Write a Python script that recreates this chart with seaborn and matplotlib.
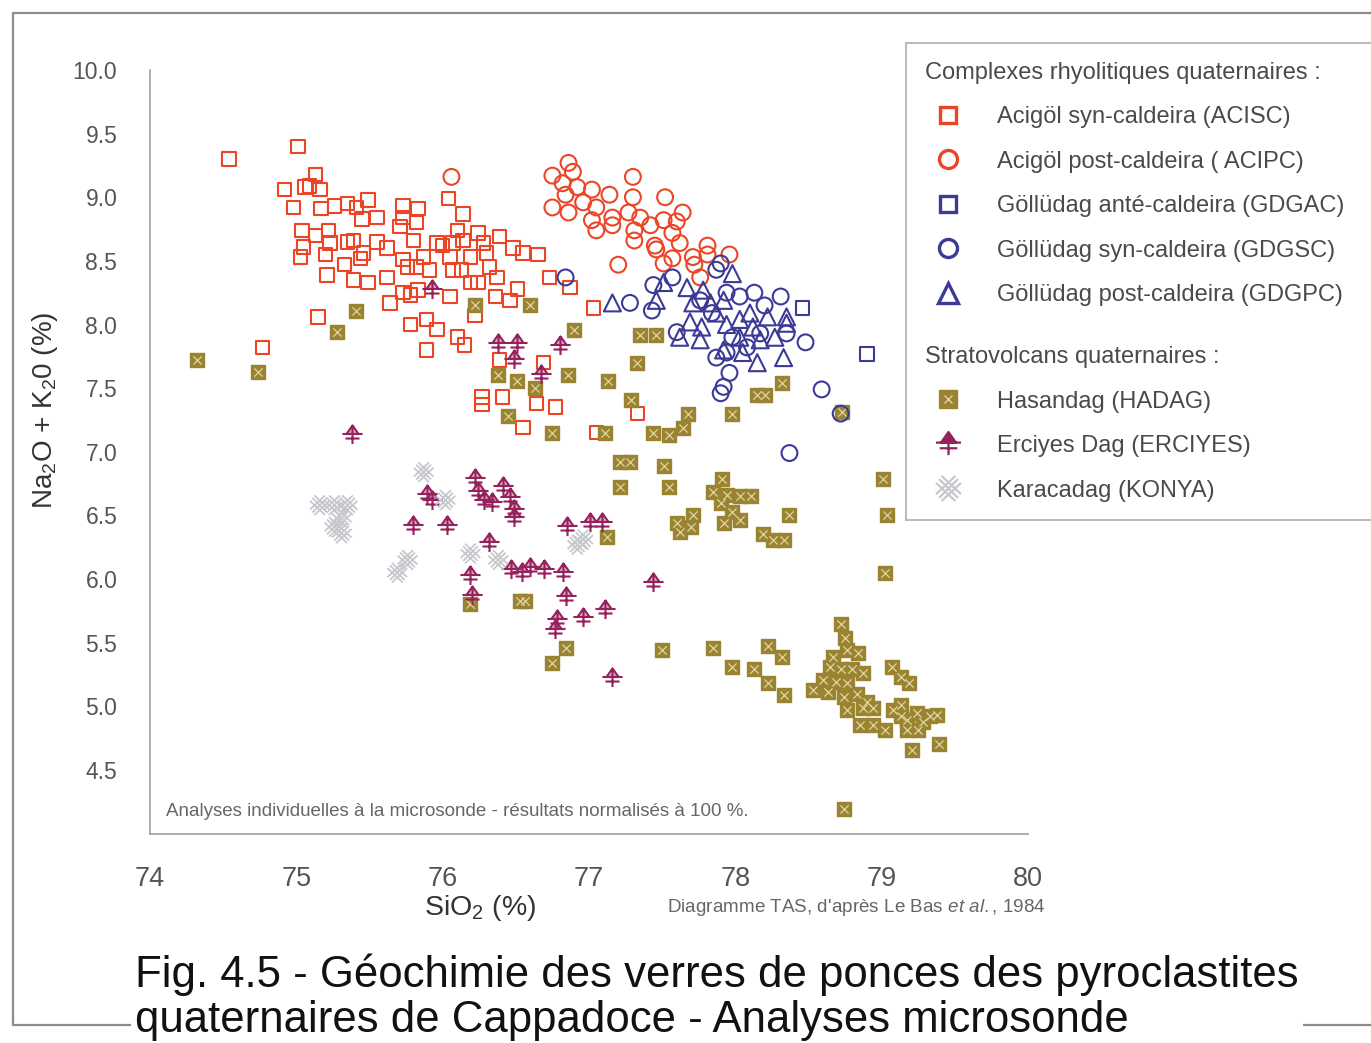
import numpy as np
import pandas as pd
import seaborn as sns
import matplotlib.pyplot as plt
from matplotlib.path import Path
from matplotlib.lines import Line2D
from matplotlib import font_manager


acisc = [(74.54, 9.30), (75.01, 9.40), (75.13, 9.18), (74.92, 9.06), (75.06, 9.08), (75.09, 9.09),
         (75.16, 9.06), (74.98, 8.92), (75.17, 8.91), (75.26, 8.93), (75.35, 8.95), (75.41, 8.92),
         (75.49, 8.98), (75.55, 8.84), (75.45, 8.83), (75.73, 8.93), (75.83, 8.91), (76.04, 8.99),
         (76.14, 8.87), (75.04, 8.74), (75.13, 8.70), (75.05, 8.61), (75.03, 8.53), (75.22, 8.74),
         (75.23, 8.64), (75.20, 8.55), (75.21, 8.39), (75.35, 8.65), (75.39, 8.66), (75.46, 8.56),
         (75.44, 8.52), (75.33, 8.47), (75.39, 8.35), (75.49, 8.33), (75.55, 8.65), (75.62, 8.60),
         (75.62, 8.37), (75.71, 8.77), (75.73, 8.84), (75.82, 8.80), (75.80, 8.66), (75.73, 8.51),
         (75.76, 8.45), (75.82, 8.45), (75.87, 8.53), (75.91, 8.43), (75.96, 8.64), (76.00, 8.62),
         (76.07, 8.64), (76.10, 8.74), (76.14, 8.66), (76.05, 8.53), (76.07, 8.43), (76.13, 8.43),
         (76.19, 8.53), (76.24, 8.72), (76.28, 8.64), (76.30, 8.56), (76.39, 8.69), (76.48, 8.60),
         (76.55, 8.56), (76.65, 8.55), (76.32, 8.45), (76.37, 8.37), (76.24, 8.33), (76.19, 8.33),
         (76.05, 8.22), (75.73, 8.25), (75.78, 8.23), (75.83, 8.27), (75.64, 8.17), (76.36, 8.22),
         (76.46, 8.19), (76.51, 8.28), (76.73, 8.37), (76.87, 8.29), (77.03, 8.13), (75.15, 8.06),
         (74.77, 7.82), (75.78, 8.00), (75.89, 8.04), (75.96, 7.96), (76.10, 7.90), (76.15, 7.84),
         (75.89, 7.80), (76.22, 8.07), (76.69, 7.70), (76.27, 7.43), (76.27, 7.37), (76.41, 7.43),
         (76.64, 7.38), (76.77, 7.35), (76.55, 7.19), (77.05, 7.15), (76.39, 7.72), (77.33, 7.30)]

acipc = [(76.06, 9.16), (76.86, 9.27), (76.75, 9.17), (76.89, 9.20), (76.82, 9.11), (76.92, 9.08),
         (77.02, 9.06), (76.84, 9.02), (76.75, 8.92), (76.86, 8.88), (76.96, 8.96), (77.05, 8.92),
         (77.02, 8.82), (77.05, 8.74), (77.14, 9.02), (77.16, 8.84), (77.16, 8.78), (77.30, 9.16),
         (77.30, 9.00), (77.27, 8.88), (77.35, 8.84), (77.31, 8.74), (77.42, 8.78), (77.31, 8.66),
         (77.45, 8.62), (77.52, 9.00), (77.51, 8.82), (77.57, 8.72), (77.64, 8.88), (77.60, 8.81),
         (77.46, 8.59), (77.62, 8.64), (77.51, 8.48), (77.57, 8.52), (77.71, 8.53), (77.72, 8.47),
         (77.81, 8.62), (77.81, 8.55), (77.96, 8.55), (77.76, 8.37), (77.20, 8.47)]

gdgac = [(78.46, 8.13), (78.90, 7.77)]

gdgsc = [(76.84, 8.37), (77.28, 8.17), (77.44, 8.31), (77.43, 8.11), (77.57, 8.37), (77.60, 7.94),
         (77.76, 8.19), (77.87, 8.43), (77.90, 8.48), (77.94, 8.25), (78.03, 8.22), (78.13, 8.25),
         (78.20, 8.15), (78.31, 8.22), (78.35, 7.93), (78.48, 7.86), (78.17, 7.93), (77.98, 7.90),
         (77.87, 7.74), (77.94, 7.78), (78.08, 7.82), (77.96, 7.62), (77.92, 7.51), (77.90, 7.46),
         (78.59, 7.49), (78.72, 7.30), (78.37, 6.99), (77.84, 8.09)]

gdgpc = [(77.16, 8.17), (77.46, 8.19), (77.51, 8.33), (77.67, 8.29), (77.71, 8.17), (77.78, 8.27),
         (77.83, 8.17), (77.87, 8.09), (77.92, 8.19), (77.98, 8.40), (77.69, 8.02), (77.77, 7.98),
         (77.62, 7.90), (77.76, 7.88), (77.94, 8.00), (78.03, 8.04), (78.10, 8.09), (78.03, 7.90),
         (78.12, 7.98), (78.17, 7.88), (77.92, 7.80), (78.05, 7.78), (78.15, 7.70), (78.33, 7.74),
         (78.35, 8.06), (78.35, 8.01), (78.22, 8.06), (78.27, 7.90)]

hadag = [(74.32, 7.72), (74.74, 7.63), (75.28, 7.94), (75.41, 8.11), (76.22, 8.15), (76.60, 8.15),
         (76.90, 7.96), (76.86, 7.60), (76.38, 7.60), (76.51, 7.56), (76.63, 7.50), (76.45, 7.28),
         (76.75, 7.15), (77.35, 7.92), (77.46, 7.92), (77.33, 7.70), (77.13, 7.56), (77.29, 7.41),
         (77.68, 7.30), (77.98, 7.30), (78.15, 7.45), (78.20, 7.45), (78.32, 7.54), (78.73, 7.31),
         (77.11, 7.15), (77.44, 7.15), (77.55, 7.13), (77.64, 7.19), (77.21, 6.92), (77.28, 6.92),
         (77.51, 6.89), (77.21, 6.72), (77.55, 6.72), (77.91, 6.79), (77.85, 6.68), (77.94, 6.66),
         (78.03, 6.65), (78.11, 6.65), (77.90, 6.60), (77.98, 6.53), (77.92, 6.44), (78.03, 6.46),
         (77.60, 6.44), (77.71, 6.50), (77.70, 6.41), (77.62, 6.37), (78.37, 6.50), (78.19, 6.35),
         (78.26, 6.31), (78.33, 6.31), (79.01, 6.79), (79.04, 6.50), (79.02, 6.05), (77.12, 6.33),
         (76.19, 5.80), (76.53, 5.83), (76.56, 5.83), (76.75, 5.34), (76.84, 5.46), (77.50, 5.44),
         (77.85, 5.46), (77.98, 5.31), (78.13, 5.29), (78.22, 5.47), (78.32, 5.39), (78.22, 5.18),
         (78.33, 5.09), (78.72, 5.65), (78.75, 5.54), (78.67, 5.39), (78.76, 5.44), (78.84, 5.42),
         (78.65, 5.31), (78.72, 5.29), (78.80, 5.29), (78.87, 5.26), (78.60, 5.21), (78.69, 5.19),
         (78.76, 5.18), (78.53, 5.13), (78.63, 5.11), (78.74, 5.07), (78.83, 5.10), (78.90, 5.03),
         (78.76, 4.97), (78.87, 4.99), (78.94, 4.99), (78.85, 4.85), (78.94, 4.85), (79.07, 5.31),
         (79.13, 5.23), (79.19, 5.18), (79.02, 4.81), (79.08, 4.97), (79.13, 4.92), (79.17, 4.89),
         (79.17, 4.81), (79.24, 4.95), (79.28, 4.88), (79.33, 4.92), (79.38, 4.93), (79.25, 4.81),
         (79.21, 4.66), (79.39, 4.70), (79.13, 5.01), (78.74, 4.19)]

erciyes = [(75.38, 7.13), (75.93, 8.27), (76.38, 7.85), (76.51, 7.85), (76.80, 7.83), (76.49, 7.72),
           (76.67, 7.60), (76.22, 6.79), (76.24, 6.68), (76.28, 6.61), (76.34, 6.60), (76.41, 6.72),
           (76.46, 6.64), (76.49, 6.54), (76.49, 6.48), (75.89, 6.66), (75.93, 6.61), (75.80, 6.42),
           (76.03, 6.42), (76.32, 6.28), (76.19, 6.02), (76.20, 5.87), (76.47, 6.07), (76.54, 6.05),
           (76.60, 6.09), (76.69, 6.07), (76.82, 6.05), (76.85, 6.41), (77.01, 6.44), (77.09, 6.44),
           (76.78, 5.68), (76.77, 5.60), (76.96, 5.69), (77.11, 5.76), (76.84, 5.86), (77.44, 5.97),
           (77.16, 5.22)]

konya = [(75.16, 6.58), (75.26, 6.58), (75.35, 6.58), (75.31, 6.48), (75.26, 6.41), (75.31, 6.36),
         (75.87, 6.84), (76.02, 6.62), (75.76, 6.15), (75.69, 6.05), (76.19, 6.20), (76.38, 6.15),
         (76.92, 6.27), (76.96, 6.31)]

labels = ["Complexes rhyolitiques quaternaires :",
          "Acigöl syn-caldeira (ACISC)",
          "Acigöl post-caldeira ( ACIPC)",
          "Göllüdag anté-caldeira (GDGAC)",
          "Göllüdag syn-caldeira (GDGSC)",
          "Göllüdag post-caldeira (GDGPC)",
          "\nStratovolcans quaternaires :",
          "Hasandag (HADAG)",
          "Erciyes Dag (ERCIYES)",
          "Karacadag (KONYA)"]

y_ticks = np.arange(4.5, 10.01, 0.5)
x_ticks = np.arange(74, 81, 1)

RED = "#ec4526"
BLUE = "#3b3a96"
OLIVE = "#9a8432"
MAG = "#96215c"
GRAY = "#c6c8cd"

# ---- style ----
sns.set_theme(style="white")
installed = {f.name for f in font_manager.fontManager.ttflist}
NARROW = "Liberation Sans Narrow" if "Liberation Sans Narrow" in installed else "Liberation Sans"
plt.rcParams["font.family"] = ["Liberation Sans", "DejaVu Sans"]
plt.rcParams["mathtext.fontset"] = "custom"
plt.rcParams["mathtext.rm"] = "Liberation Sans"
plt.rcParams["mathtext.it"] = "Liberation Sans:italic"
plt.rcParams["mathtext.default"] = "regular"

# custom markers: Erciyes "tree" and Konya cross-hatch
tree = Path([(0, 1), (-0.6, 0.15), (0.6, 0.15), (0, 1),
             (-1, 0.15), (1, 0.15),
             (-0.7, -0.3), (0.7, -0.3),
             (0, 1), (0, -0.85)],
            [Path.MOVETO, Path.LINETO, Path.LINETO, Path.CLOSEPOLY,
             Path.MOVETO, Path.LINETO, Path.MOVETO, Path.LINETO,
             Path.MOVETO, Path.LINETO])
lattice = Path([(-1, -0.45), (0.55, 1), (-0.55, -1), (1, 0.45),
                (-1, 0.45), (0.55, -1), (-0.55, 1), (1, -0.45),
                (-0.75, -0.75), (0.75, 0.75), (-0.75, 0.75), (0.75, -0.75)],
               [Path.MOVETO, Path.LINETO] * 6)

fig = plt.figure(figsize=(13.71, 10.43), dpi=100)
fig.patch.set_facecolor("white")
ax = fig.add_axes([0.1094, 0.2008, 0.6404, 0.7321])


def df_of(pts):
    return pd.DataFrame(pts, columns=["sio2", "alk"])


def draw(pts, **kws):
    sns.scatterplot(data=df_of(pts), x="sio2", y="alk", ax=ax, legend=False, **kws)


draw(acisc, marker="s", s=95, color=RED, facecolor="none", edgecolor=RED, linewidth=1.5)
draw(acipc, marker="o", s=130, color=RED, facecolor="none", edgecolor=RED, linewidth=1.5)
draw(hadag, marker="s", s=105, color=OLIVE, edgecolor=OLIVE, linewidth=1.0)
draw(hadag, marker="x", s=35, color="#e0d5a0", linewidth=0.9)
draw(erciyes, marker=tree, s=210, color=MAG, facecolor=(0.59, 0.13, 0.36, 0.35), edgecolor=MAG, linewidth=1.5)
draw(konya, marker=lattice, s=200, color=GRAY, facecolor="none", edgecolor=GRAY, linewidth=1.3)
draw(gdgac, marker="s", s=95, color=BLUE, facecolor="none", edgecolor=BLUE, linewidth=1.5)
draw(gdgsc, marker="o", s=130, color=BLUE, facecolor="none", edgecolor=BLUE, linewidth=1.5)
draw(gdgpc, marker="^", s=150, color=BLUE, facecolor="none", edgecolor=BLUE, linewidth=1.5)

# ---- axes ----
ax.set_xlim(74, 80)
ax.set_ylim(4.0, 10.0)
ax.set_xticks(x_ticks)
ax.set_xticks(np.arange(74.5, 80, 1), minor=True)
ax.set_yticks(y_ticks)
ax.set_yticks(np.arange(4.0, 10.01, 0.25), minor=True)
ax.set_xticklabels([str(v) for v in x_ticks])
ax.set_yticklabels([f"{v:.1f}" for v in y_ticks])
sns.despine(ax=ax)
for side in ("left", "bottom"):
    ax.spines[side].set_color("#a0a0a0")
    ax.spines[side].set_linewidth(1.2)
ax.tick_params(which="major", direction="out", length=9.5, width=1, color="#a0a0a0", pad=14,
               labelcolor="#555555")
ax.tick_params(which="minor", direction="out", length=5, width=1, color="#a0a0a0")
ax.tick_params(axis="x", labelsize=19.5)
ax.tick_params(axis="y", labelsize=16.5)
for lab in ax.get_xticklabels():
    lab.set_fontfamily([NARROW, "DejaVu Sans"])

ax.set_xlabel(r"SiO$_2$ (%)", fontsize=20.5, color="#333333")
ax.xaxis.set_label_coords(0.376, -0.078)
ax.set_ylabel(r"Na$_2$O + K$_2$0 (%)", fontsize=20, color="#333333")
ax.yaxis.set_label_coords(-0.102, 0.555)

ax.text(0.018, 0.023, "Analyses individuelles à la microsonde - résultats normalisés à 100 %.",
        transform=ax.transAxes, fontsize=13.5, color="#666666", va="baseline")
ax.text(0.589, -0.103, r"Diagramme TAS, d'après Le Bas $\it{et\ al.}$, 1984",
        transform=ax.transAxes, fontsize=13.6, color="#666666", va="baseline")

# ---- legend ----
blank = Line2D([], [], linestyle="none")
handles = [
    blank,
    Line2D([], [], ls="none", marker="s", ms=12, mfc="none", mec=RED, mew=2.4),
    Line2D([], [], ls="none", marker="o", ms=13, mfc="none", mec=RED, mew=2.4),
    Line2D([], [], ls="none", marker="s", ms=12, mfc="none", mec=BLUE, mew=2.4),
    Line2D([], [], ls="none", marker="o", ms=13, mfc="none", mec=BLUE, mew=2.4),
    Line2D([], [], ls="none", marker="^", ms=15, mfc="none", mec=BLUE, mew=2.4),
    blank,
    (Line2D([], [], ls="none", marker="s", ms=13, mfc=OLIVE, mec=OLIVE),
     Line2D([], [], ls="none", marker="x", ms=6, mec="#e0d5a0", mew=1.0)),
    Line2D([], [], ls="none", marker=tree, ms=18, mfc=MAG, mec=MAG, mew=1.6),
    Line2D([], [], ls="none", marker=lattice, ms=18, mfc="none", mec=GRAY, mew=1.6),
]
leg = ax.legend(handles, labels, loc="upper left",
                bbox_to_anchor=(906 / 1371, 1 - 43 / 1043), bbox_transform=fig.transFigure,
                borderaxespad=0, borderpad=0.8, handlelength=1.95, handletextpad=1.1,
                labelspacing=0.95, fontsize=17, frameon=True, fancybox=False, framealpha=1,
                edgecolor="#bcbcbc", labelcolor="#4a4a4a")
leg.get_frame().set_linewidth(1.5)
txts = leg.get_texts()
for i in (0, 6):
    txts[i].set_x(-72)
txts[6].set_linespacing(0.75)

# ---- page frame + caption ----
fl = dict(color="#8c8c8c", lw=1.6, transform=fig.transFigure)
fig.add_artist(Line2D([0.0095, 0.0095], [0.0173, 0.9875], **fl))
fig.add_artist(Line2D([0.0095, 1.0], [0.9875, 0.9875], **fl))
fig.add_artist(Line2D([0.0095, 1.0], [0.0173, 0.0173], **fl))

cap_fs = 35 if NARROW == "Liberation Sans Narrow" else 31.5
fig.text(135 / 1371, 1 - 1032 / 1043,
         "Fig. 4.5 - Géochimie des verres de ponces des pyroclastites\n"
         "quaternaires de Cappadoce - Analyses microsonde",
         family=[NARROW, "DejaVu Sans"], fontsize=cap_fs, color="#111111",
         ha="left", va="baseline", linespacing=1.11,
         bbox=dict(facecolor="white", edgecolor="none", pad=3))

fig.savefig("out.png", dpi=100)
